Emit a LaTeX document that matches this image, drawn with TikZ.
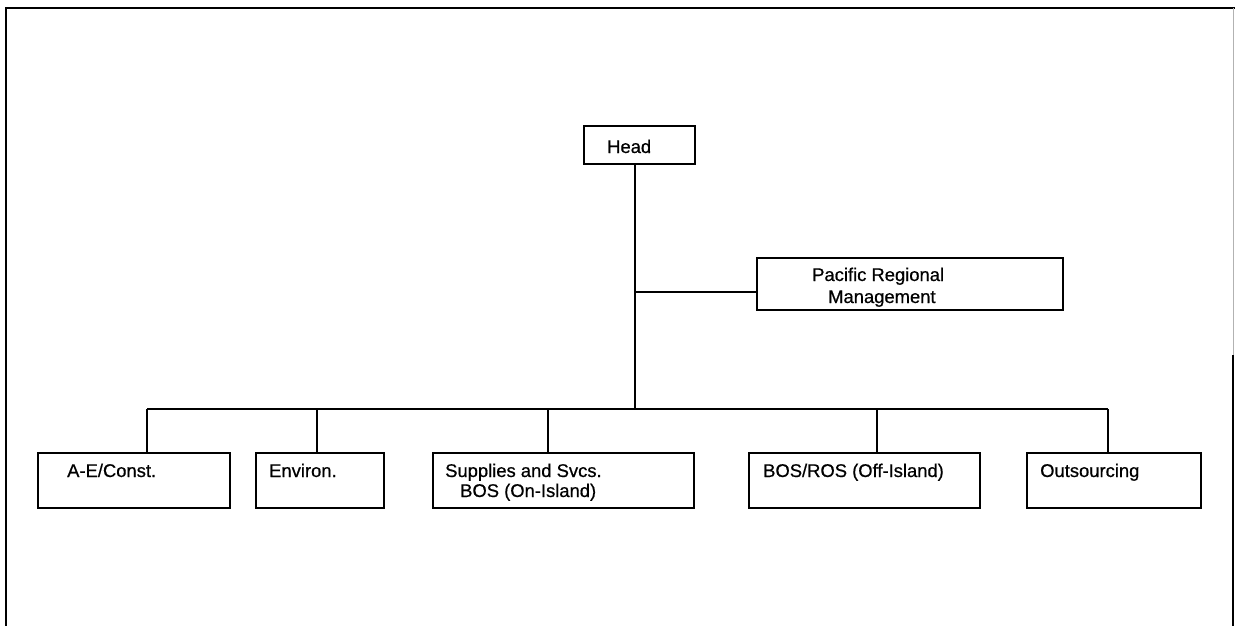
\documentclass[tikz,border=0pt]{standalone}
\usepackage{fontspec}
\setmainfont{Liberation Sans}
\newfontfamily\scanfont{Liberation Sans}[FakeBold=0.6]
\begin{document}
\begin{tikzpicture}[x=1pt,y=-1pt,
  box/.style={draw=black, line width=2pt, fill=none, inner sep=0pt, anchor=north west},
  txt/.style={anchor=base west, inner sep=0pt, font=\scanfont\fontsize{18.4}{22}\selectfont},
  conn/.style={draw=black, line width=1.6pt},
  frame/.style={draw=black, line width=2.2pt}]
\useasboundingbox (0,0) rectangle (1235,626);
% frame
\coordinate (ftl) at (6,8);
\coordinate (ftr) at (1235,8);
\coordinate (fbl) at (6,626);
\coordinate (frt) at (1233,8);
\coordinate (frm) at (1233,355);
\coordinate (frb) at (1233,626);
\draw[frame] (fbl) -- (ftl) -- (ftr);
\draw[draw=black!30, line width=1pt] (frt) -- (frm);
\draw[frame] (frm) -- (frb);
% boxes
\node[box, minimum width=111pt, minimum height=38pt] (head) at (583,125) {};
\node[box, minimum width=306pt, minimum height=52pt] (pac) at (756,257) {};
\node[box, minimum width=192pt, minimum height=55pt] (ae) at (37,452) {};
\node[box, minimum width=128pt, minimum height=55pt] (env) at (255,452) {};
\node[box, minimum width=261pt, minimum height=55pt] (sup) at (432,452) {};
\node[box, minimum width=231pt, minimum height=55pt] (bos) at (748,452) {};
\node[box, minimum width=174pt, minimum height=55pt] (out) at (1026,452) {};
% texts
\node[txt] (theadA) at (607,153) {Head};
\node[txt] (tpacA) at (812,281) {Pacific Regional};
\node[txt] (tpacB) at (828,303) {Management};
\node[txt] (taeA) at (67,477) {A-E/Const.};
\node[txt] (tenvA) at (269,477) {Environ.};
\node[txt] (tsupA) at (445,477) {Supplies and Svcs.};
\node[txt] (tsupB) at (460,497) {BOS (On-Island)};
\node[txt] (tbosA) at (763,477) {BOS/ROS (Off-Island)};
\node[txt] (toutA) at (1040,477) {Outsourcing};
% connectors
\coordinate (jr) at (635,292);
\coordinate (jb) at (635,409);
\coordinate (d1) at (147,409);
\coordinate (d2) at (317,409);
\coordinate (d3) at (548,409);
\coordinate (d4) at (877,409);
\coordinate (d5) at (1108,409);
\draw[conn] (head.south -| jb) -- (jb);
\draw[conn] (jr) -- (jr -| pac.west);
\draw[conn] (d1) -- (d5);
\draw[conn] (d1) -- (d1 |- ae.north);
\draw[conn] (d2) -- (d2 |- env.north);
\draw[conn] (d3) -- (d3 |- sup.north);
\draw[conn] (d4) -- (d4 |- bos.north);
\draw[conn] (d5) -- (d5 |- out.north);
\end{tikzpicture}
\end{document}
